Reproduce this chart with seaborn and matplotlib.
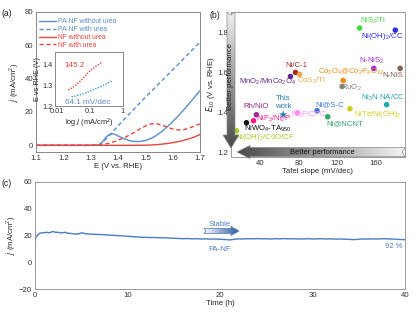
import numpy as np
import pandas as pd
import seaborn as sns
import matplotlib.pyplot as plt
from matplotlib.patches import Polygon
from matplotlib.colors import LinearSegmentedColormap
from matplotlib.lines import Line2D

sns.set_style("white")
plt.rcParams['font.family'] = ['Liberation Sans', 'DejaVu Sans']
plt.rcParams['mathtext.default'] = 'regular'

BLUE = '#5a8dcc'
RED = '#e8443c'

# ---- panel (a): polarization curves
potential = [1.10, 1.15, 1.20, 1.25, 1.30, 1.32, 1.33, 1.34, 1.35, 1.36, 1.37, 1.38, 1.39, 1.40,
             1.42, 1.44, 1.46, 1.48, 1.50, 1.52, 1.54, 1.56, 1.58, 1.60, 1.62, 1.64, 1.66, 1.68, 1.70]
pa_nf_no_urea = [0, 0, 0, 0, 0, 0.1, 0.3, 1.5, 3.5, 5.5, 6.6, 6.9, 6.5, 5.7,
                 4.1, 2.9, 2.3, 2.3, 2.9, 4.1, 5.9, 8.3, 11.1, 14.2, 17.6, 21.2, 25.0, 28.9, 32.8]
pa_nf_urea = [0, 0, 0, 0, 0, 0.1, 0.4, 1.3, 2.8, 4.5, 6.2, 8.0, 9.8, 11.6,
              15.2, 18.6, 22.0, 25.4, 28.8, 32.1, 35.4, 38.7, 42.0, 45.3, 48.6, 52.0, 55.3, 58.7, 62.0]
nf_no_urea = [0, 0, 0, 0, 0, 0, 0, 0, 0, 0, 0, 0, 0, 0,
              0, 0, 0, 0.05, 0.1, 0.2, 0.4, 0.7, 1.1, 1.6, 2.2, 3.0, 3.9, 5.0, 6.5]
nf_urea = [0, 0, 0, 0, 0, 0.05, 0.1, 0.3, 0.6, 1.0, 1.4, 1.9, 2.4, 3.0,
           4.4, 6.0, 7.8, 9.8, 11.6, 12.8, 13.0, 12.2, 10.9, 9.8, 9.2, 9.4, 10.3, 11.6, 12.8]

# inset Tafel plots
tafel_j_nf = [0.022, 0.03, 0.04, 0.055, 0.07, 0.09, 0.12, 0.16, 0.2, 0.25]
tafel_e_nf = [1.278, 1.29, 1.305, 1.325, 1.343, 1.362, 1.38, 1.395, 1.405, 1.415]
tafel_j_pa = [0.028, 0.04, 0.06, 0.09, 0.13, 0.2, 0.3, 0.42, 0.5]
tafel_e_pa = [1.245, 1.25, 1.258, 1.268, 1.28, 1.292, 1.306, 1.317, 1.322]

# ---- panel (b): comparison with literature
catalysts = ['NiS$_2$/Ti', 'Ni(OH)$_2$/CC', 'Ni/C-1', 'CoS$_2$/Ti', 'MnO$_2$/MnCo$_2$O$_4$',
             'Co$_3$O$_4$@Co$_2$P$_4$O$_{12}$', 'RuO$_2$', 'N-NiS$_2$', 'N-NiS', 'Ni$_3$N NA/CC',
             'NiTe/Ni(OH)$_2$', 'Ni@S-C', 'Ni@NCNT', 'Ni$_2$P/CFC', 'Rh/NiO', 'NiF$_3$/Ni$_2$P',
             'NiWO$_4$-TA$_{950}$', 'Ni(OH)$_2$/CuO/CF']
tafel = [143, 180, 76.7, 81, 71.5, 126, 125, 157.7, 185, 171, 133, 99, 110, 78.7, 36.3, 33.3, 26, 15.8]
e10 = [1.82, 1.81, 1.60, 1.59, 1.58, 1.56, 1.53, 1.62, 1.62, 1.44, 1.42, 1.41, 1.38, 1.40,
       1.39, 1.36, 1.35, 1.31]
colors = ['#3ddc3d', '#2a2ae8', '#a82828', '#f2a54a', '#5c2a8a', '#f08a10', '#8a7e76', '#9a2ee0',
          '#8a5c5c', '#22aaaa', '#cfcf22', '#3a78dc', '#30a868', '#ff8cf0', '#9a2a9a', '#ff1a8c',
          '#111111', '#a8cc28']
label_x = [156.7, 166.4, 78, 92.6, 48, 134.5, 135, 156, 177, 167.4, 162, 112.6, 127.4, 90.5,
           35.6, 53.6, 48, 44.9]
label_y = [1.855, 1.78, 1.635, 1.558, 1.555, 1.603, 1.525, 1.658, 1.585, 1.475, 1.39, 1.44, 1.345,
           1.387, 1.43, 1.368, 1.320, 1.276]
this_work = (64, 1.39)

# ---- panel (c): stability
hours = [0, 0.05, 0.1, 0.2, 0.35, 0.5, 0.75, 1.0, 1.25, 1.5, 1.75, 2.0, 2.25, 2.5, 2.75, 3.0,
         3.25, 3.5, 3.75, 4.0, 4.25, 4.5, 4.75, 5.0, 5.25, 5.5,
         6.0, 6.5, 7.0, 7.5, 8.0, 8.5, 9.0, 9.5, 10.0, 10.5, 11.0, 11.5, 12.0, 12.5, 13.0, 13.5,
         14.0, 14.5, 15.0, 15.5, 16.0, 16.5, 17.0, 17.5, 18.0, 18.5, 19.0, 19.5, 20.0, 20.5,
         21.0, 21.5, 22.0, 22.5, 23.0, 23.5, 24.0, 24.5, 25.0, 25.5, 26.0, 26.5, 27.0, 27.5,
         28.0, 28.5, 29.0, 29.5, 30.0, 30.5, 31.0, 31.5, 32.0, 32.5, 33.0, 33.5, 34.0, 34.5,
         35.0, 35.5, 36.0, 36.5, 37.0, 37.5, 38.0, 38.5, 39.0, 39.5, 40.0]
current = [-5, 17.5, 18.8, 19.6, 20.8, 21.6, 22.0, 22.1, 22.4, 22.0, 22.6, 22.9, 22.3, 22.5, 21.9, 22.1,
           22.4, 21.7, 21.6, 21.4, 21.2, 21.0, 21.3, 22.0, 21.7, 21.3,
           21.0, 20.9, 20.7, 20.6, 20.3, 20.1, 19.9, 19.7, 19.4, 19.2, 18.9, 18.7, 18.6, 18.5, 18.5, 18.3,
           18.3, 18.1, 17.9, 17.8, 17.6, 17.7, 17.5, 17.6, 17.4, 17.5, 17.3, 17.4, 17.2, 17.0,
           16.7, 17.1, 17.5, 17.4, 17.6, 17.5, 17.7, 17.5, 17.6, 17.4, 17.6, 17.5, 17.7, 17.5,
           17.6, 17.4, 17.5, 17.6, 17.4, 17.5, 17.6, 17.4, 17.5, 17.3, 17.4, 17.2, 17.1, 16.9,
           17.2, 17.4, 17.3, 17.5, 17.4, 17.6, 17.5, 17.4, 17.2, 17.0, 16.9]

W, H = 416, 313
fig = plt.figure(figsize=(W / 100, H / 100), dpi=100)


def px_axes(l, t, r, b):
    return fig.add_axes([l / W, 1 - b / H, (r - l) / W, (b - t) / H])


def style(ax, edge, fs=5.6):
    for s in ax.spines.values():
        s.set_color(edge)
        s.set_linewidth(0.7)
    ax.tick_params(direction='in', length=2.5, width=0.6, labelsize=fs, colors='#333333', pad=2)


FS = 5.6

# ================= (a)
ax = px_axes(36, 12, 200, 152)
style(ax, '#888888')
sns.lineplot(x=potential, y=pa_nf_no_urea, ax=ax, color=BLUE, lw=1.0)
sns.lineplot(x=potential, y=pa_nf_urea, ax=ax, color=BLUE, lw=1.0, linestyle=(0, (3, 2)))
sns.lineplot(x=potential, y=nf_no_urea, ax=ax, color=RED, lw=1.0)
sns.lineplot(x=potential, y=nf_urea, ax=ax, color=RED, lw=1.0, linestyle=(0, (3, 2)))
ax.set_xlim(1.1, 1.7)
ax.set_ylim(-4, 80)
ax.set_xticks([1.1, 1.2, 1.3, 1.4, 1.5, 1.6, 1.7])
ax.set_yticks([0, 20, 40, 60, 80])
ax.set_xlabel('E (V vs. RHE)', fontsize=FS, labelpad=1)
ax.set_ylabel('$\\mathit{j}$ (mA/cm$^2$)', fontsize=FS, labelpad=3)
handles = [Line2D([], [], color=BLUE, lw=1.0), Line2D([], [], color=BLUE, lw=1.0, ls=(0, (3, 2))),
           Line2D([], [], color=RED, lw=1.0), Line2D([], [], color=RED, lw=1.0, ls=(0, (3, 2)))]
leg = ax.legend(handles, ['PA-NF without urea', 'PA-NF with urea', 'NF without urea', 'NF with urea'],
                loc='upper left', frameon=False, fontsize=4.9, handlelength=2.4, handletextpad=0.35,
                labelspacing=0.12, borderaxespad=0, borderpad=0, bbox_to_anchor=(0.02, 0.955))
for txt, c in zip(leg.get_texts(), [BLUE, BLUE, RED, RED]):
    txt.set_color(c)
fig.text(2 / W, 1 - 13 / H, '(a)', fontsize=6.2, va='center', color='#222222')

# inset
axi = px_axes(55, 52, 123, 106)
style(axi, '#888888', fs=5.3)
axi.tick_params(pad=1.5)
sns.lineplot(x=tafel_j_nf, y=tafel_e_nf, ax=axi, color=RED, lw=1.0, linestyle=(0, (1, 1)))
sns.lineplot(x=tafel_j_pa, y=tafel_e_pa, ax=axi, color='#3aa0dc', lw=1.0, linestyle=(0, (1, 1)))
axi.set_xscale('log')
axi.set_xlim(0.0087, 1.05)
axi.set_ylim(1.2, 1.463)
axi.set_xticks([0.01, 0.1, 1])
axi.set_xticklabels(['0.01', '0.1', '1'])
axi.minorticks_off()
axi.set_yticks([1.2, 1.3, 1.4])
axi.set_xlabel('log $\\mathit{j}$ (mA/cm$^2$)', fontsize=5.3, labelpad=1)
axi.set_ylabel('E vs RHE (V)', fontsize=5.3, labelpad=1)
axi.text(0.034, 1.395, '145.2', color=RED, fontsize=5.9, ha='center', va='center')
axi.text(0.085, 1.215, '64.1 mV/dec', color=BLUE, fontsize=5.9, ha='center', va='center')

# ================= (b)
bx = px_axes(231, 12, 405, 157)
style(bx, '#999999')
df = pd.DataFrame({'tafel': tafel, 'e10': e10, 'name': catalysts})
sns.scatterplot(data=df, x='tafel', y='e10', hue='name', palette=dict(zip(catalysts, colors)),
                ax=bx, legend=False, s=16, edgecolor='none', zorder=3)
sns.scatterplot(x=[this_work[0]], y=[this_work[1]], ax=bx, marker='*', s=40, color='#2a7ab8',
                edgecolor='none', zorder=3)
for n, lx, ly, c in zip(catalysts, label_x, label_y, colors):
    bx.text(lx, ly, n, color=c, fontsize=5.6, ha='center', va='center', clip_on=False)
bx.text(64, 1.45, 'This\nwork', color='#2a7ab8', fontsize=5.6, ha='center', va='center', linespacing=1.15)
bx.set_xlim(10, 190)
bx.set_ylim(1.18, 1.9)
bx.set_xticks([40, 80, 120, 160])
bx.set_yticks([1.2, 1.4, 1.6, 1.8])
bx.set_xlabel('Tafel slope (mV/dec)', fontsize=FS, labelpad=1)
bx.set_ylabel('$\\mathit{E}_{10}$ (V vs. RHE)', fontsize=FS, labelpad=0.5)
fig.text(210 / W, 1 - 15 / H, '(b)', fontsize=6.2, va='center', color='#222222')

# ================= (c)
cx = px_axes(35, 182, 405, 289)
style(cx, '#999999')
sns.lineplot(x=hours, y=current, ax=cx, color='#4a7cc2', lw=1.0)
cx.set_xlim(0, 40)
cx.set_ylim(-20, 60)
cx.set_xticks([0, 10, 20, 30, 40])
cx.set_yticks([-20, 0, 20, 40, 60])
cx.set_xlabel('Time (h)', fontsize=FS, labelpad=1)
cx.set_ylabel('$\\mathit{j}$ (mA/cm$^2$)', fontsize=FS, labelpad=1.5)
cx.text(20.0, 28.5, 'Stable', color='#4a7cc2', fontsize=5.6, ha='center', va='center')
cx.text(20.0, 9.5, 'PA-NF', color='#4a7cc2', fontsize=5.6, ha='center', va='center')
cx.text(39.7, 12.0, '92 %', color='#4a7cc2', fontsize=5.5, ha='right', va='center')
fig.text(2 / W, 1 - 184 / H, '(c)', fontsize=6.2, va='center', color='#222222')

# ================= gradient arrows (overlay in pixel coordinates)
ov = fig.add_axes([0, 0, 1, 1], zorder=10)
ov.patch.set_alpha(0)
ov.axis('off')


def grad_arrow(verts, ext, grad, c0, c1, edge):
    cmap = LinearSegmentedColormap.from_list('g', [c0, c1])
    poly = Polygon(verts, closed=True, fc='none', ec=edge, lw=0.5)
    ov.add_patch(poly)
    im = ov.imshow(grad, extent=ext, cmap=cmap, aspect='auto', origin='upper', vmin=0, vmax=1)
    im.set_clip_path(poly)


ramp = np.linspace(0, 1, 64)
cxp = 231
grad_arrow([(cxp - 4, 12), (cxp, 15), (cxp + 4, 12), (cxp + 4, 135), (cxp + 8, 135), (cxp, 148),
            (cxp - 8, 135), (cxp - 4, 135)],
           (cxp - 9, cxp + 9, 148, 11), ramp[:, None], '#f0f0f0', '#4a4a4a', '#888888')
cy = 152
grad_arrow([(237, cy), (250, cy - 6.5), (250, cy - 4.5), (405, cy - 4.5), (402, cy), (405, cy + 4.5),
            (250, cy + 4.5), (250, cy + 6.5)],
           (236, 406, cy + 7, cy - 7), ramp[::-1][None, :], '#f4f4f4', '#4a4a4a', '#888888')
sy = 231
grad_arrow([(204, sy - 2.5), (231, sy - 2.5), (231, sy - 4.5), (239, sy), (231, sy + 4.5), (231, sy + 2.5),
            (204, sy + 2.5), (206, sy)],
           (203, 240, sy + 5, sy - 5), ramp[None, :], '#ffffff', '#24589e', '#5577aa')
ov.text(cxp, 77, 'Better performance', rotation=90, fontsize=5.6, ha='center', va='center', color='#222222')
ov.text(322, cy, 'Better performance', fontsize=5.4, ha='center', va='center', color='#111111')
ov.set_xlim(0, W)
ov.set_ylim(H, 0)

fig.savefig('out.png', dpi=100)
